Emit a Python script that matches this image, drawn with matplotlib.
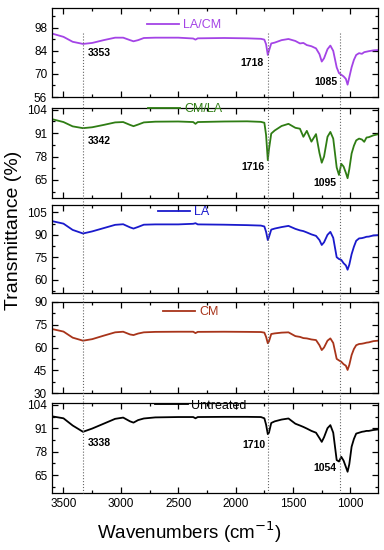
import numpy as np
import matplotlib
matplotlib.use("Agg")
import matplotlib.pyplot as plt
from matplotlib.ticker import MultipleLocator, AutoMinorLocator
from matplotlib.lines import Line2D
import matplotlib.transforms as mtransforms

plt.rcParams['font.family'] = ['Liberation Sans', 'DejaVu Sans']

# wavenumbers (cm-1), shared by all spectra
wn = [3600, 3500, 3420, 3330, 3250, 3150, 3050, 2980, 2920, 2890, 2850, 2800,
      2700, 2500, 2370, 2350, 2330, 2100, 1900, 1780, 1750, 1735, 1720, 1710,
      1690, 1660, 1600, 1540, 1480, 1440, 1410, 1380, 1340, 1300, 1270, 1250,
      1230, 1200, 1175, 1150, 1120, 1100, 1080, 1060, 1040, 1025, 1010, 990,
      970, 950, 925, 900, 880, 860, 840, 800, 760]

t_lacm = [94.5, 92.5, 89.5, 88.2, 88.8, 90.5, 92, 92, 90.5, 89.8, 90.5, 91.8,
          92, 92, 91.5, 90.8, 91.6, 91.8, 91.6, 91.3, 90.8, 88, 81.5, 84,
          88.5, 89, 90.5, 91.2, 90, 88.5, 88.8, 87.5, 86.8, 85.5, 82, 77.5,
          79.5, 85, 87.2, 84, 74, 70.5, 69.5, 68.5, 67, 63.5, 68, 74,
          78.5, 81.5, 82.6, 82.2, 83.2, 83.5, 83.8, 84.3, 84.5]

t_cmla = [98.8, 97.2, 94.8, 93.8, 94.3, 95.6, 97, 97.2, 95.6, 94.9, 95.8, 97,
          97.4, 97.5, 97.2, 96.2, 97.2, 97.5, 97.6, 97.3, 96.8, 90, 76, 82,
          90.8, 92.5, 95, 96.2, 94, 93.5, 89, 92.3, 86.3, 90.5, 80, 74.6,
          78, 89, 91.7, 88, 72, 67.8, 74, 72.5, 69, 66, 71, 79.7,
          84, 87, 88, 87.5, 86.2, 88.6, 88.8, 89.8, 90.4]

t_la = [99.2, 97.5, 93.3, 90.9, 92.3, 94.5, 96.7, 97.1, 95, 94.2, 95.3, 96.8,
        97, 97, 97.4, 97.8, 97, 96.8, 96.5, 96.2, 95.6, 92, 86.5, 88.5,
        93.5, 94.2, 95.2, 96, 94, 93, 92.5, 91.6, 90.3, 89.3, 86.5, 83.2,
        85, 90, 92, 88, 75, 73.8, 73.2, 71, 69.5, 66.6, 70, 77,
        82, 86, 87.6, 87.8, 88.2, 88.7, 88.8, 89.6, 89.8]

t_cm = [72.2, 70.5, 66.5, 64.5, 65.5, 67.8, 70, 70.4, 68.6, 68.2, 69.2, 70,
        70.3, 70.4, 70.4, 69.5, 70.3, 70.4, 70.3, 70.2, 69.8, 67, 62.8, 64,
        68.9, 69.3, 69.8, 70, 67.5, 67, 66.2, 66, 65.3, 64.9, 61.5, 58.3,
        60, 64.5, 66, 63, 52.5, 51.5, 50.6, 49, 48, 45.2, 48.5, 55,
        59, 61.5, 62.3, 62.5, 62.8, 63.2, 63.4, 64.2, 64.5]

t_untr = [97.6, 96.5, 92.5, 89, 90.8, 93.5, 96.2, 96.9, 94.8, 94.1, 95.5, 96.4,
          97, 97.2, 97.2, 96.5, 97.2, 97.3, 97.3, 97.2, 96.5, 93, 87.7, 88.5,
          93.9, 94.8, 95.8, 96.4, 93.5, 92.5, 91.7, 90.8, 89.5, 88.5, 85.5, 83.4,
          86, 91, 92.7, 88.5, 73.3, 72.5, 75.1, 73, 69.5, 66.8, 71, 80.7,
          85, 88, 88.5, 89, 89.2, 89.5, 89.5, 90, 90.3]

labels = ["LA/CM", "CM/LA", "LA", "CM", "Untreated"]
colors = ["#a444e6", "#2f7d14", "#1a1acc", "#a8341a", "black"]
series = [t_lacm, t_cmla, t_la, t_cm, t_untr]
yticks = [[56, 70, 84, 98], [65, 78, 91, 104], [60, 75, 90, 105],
          [30, 45, 60, 75, 90], [65, 78, 91, 104]]
ylims = [(56, 110), (55, 105), (51, 110), (30, 90), (55, 105)]

# peak labels: (panel, text, x, y)
peaks = [(0, "3353", 3290, 82.4, 'left'), (0, "1718", 1760, 76.4, 'right'),
         (0, "1085", 1115, 65, 'right'),
         (1, "3342", 3290, 86.6, 'left'), (1, "1716", 1745, 72.2, 'right'),
         (1, "1095", 1122, 63.3, 'right'),
         (4, "3338", 3290, 82.7, 'left'), (4, "1710", 1740, 81.6, 'right'),
         (4, "1054", 1122, 68.9, 'right')]
vlines = [3330, 1714, 1094]

# panel boxes in pixels (top, bottom) and legend spots
boxes = [(8, 97), (108, 198), (205, 293), (302, 393), (403, 493)]
leg_x = [0.29, 0.294, 0.325, 0.34, 0.316]
leg_y = [0.81, 0.99, 0.92, 0.89, 0.97]

W, H = 384, 550
fig = plt.figure(figsize=(W / 100, H / 100), dpi=100)
left, right = 52 / W, 378 / W

axes = []
for i in range(5):
    top, bot = boxes[i]
    ax = fig.add_axes([left, 1 - bot / H, right - left, (bot - top) / H])
    ax.plot(wn, series[i], color=colors[i], lw=1.3, label=labels[i])
    ax.set_xlim(3600, 760)
    ax.set_ylim(*ylims[i])
    ax.set_yticks(yticks[i])
    ax.yaxis.set_minor_locator(AutoMinorLocator(2))
    ax.xaxis.set_major_locator(MultipleLocator(500))
    ax.xaxis.set_minor_locator(MultipleLocator(250))
    ax.tick_params(which='both', direction='in', top=True, right=True,
                   labelsize=8.5, width=0.9)
    ax.tick_params(which='major', length=4)
    ax.tick_params(which='minor', length=2)
    for s in ax.spines.values():
        s.set_linewidth(0.9)
    if i < 4:
        ax.set_xticklabels([])
    leg = ax.legend(loc='center left', bbox_to_anchor=(leg_x[i], leg_y[i]),
                    frameon=False, fontsize=9, handlelength=2.6,
                    handletextpad=0.3, borderpad=0, borderaxespad=0)
    for t in leg.get_texts():
        t.set_color(colors[i])
    axes.append(ax)

for p, txt, x, y, ha in peaks:
    axes[p].text(x, y, txt, ha=ha, va='center', fontsize=7.5, fontweight='bold')

# dotted guide lines across all panels
for i, x in enumerate(vlines):
    tr = mtransforms.blended_transform_factory(axes[0].transData, fig.transFigure)
    fig.add_artist(Line2D([x, x], [1 - 33 / H, 1 - 493 / H], transform=tr,
                          color='#666666', lw=0.8, ls=':'))

axes[4].set_xlabel("Wavenumbers (cm$^{-1}$)", fontsize=13.5, labelpad=2)
axes[4].xaxis.set_label_coords(0.42, -0.29)
fig.text(0.035, 1 - 230 / H, "Transmittance (%)", rotation=90, ha='center',
         va='center', fontsize=14)

fig.savefig("out.png", dpi=100)
